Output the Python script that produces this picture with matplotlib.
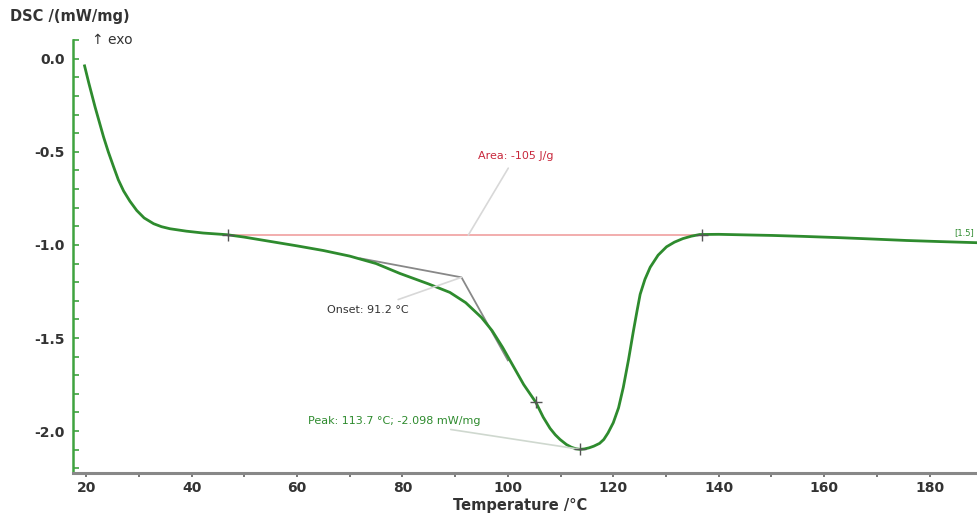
import matplotlib
matplotlib.use("Agg")
from matplotlib import pyplot as plt
from matplotlib.ticker import MultipleLocator, FormatStrFormatter

# DSC curve
temp = [19.7, 20.5, 21.7, 22.5, 23.3, 24.2, 25.2, 26.1, 27.1, 28.3, 29.6, 31.0, 32.8,
        34.3, 35.9, 39.0, 42.2, 46.7, 50.0, 54.9, 60.0, 65.0, 70.0, 75.0, 79.5,
        85.0, 89.0, 92.0, 95.0, 97.0, 99.0, 101.0, 103.0, 105.3, 106.7, 108.0,
        109.0, 109.9, 111.1, 112.0, 112.9, 113.7, 114.5, 115.4, 116.3, 117.4,
        118.2, 119.0, 120.0, 121.0, 121.9, 122.9, 123.8, 124.5, 125.1, 126.0,
        127.0, 128.5, 130.1, 131.6, 133.2, 134.8, 136.4, 140.0, 145.0, 150.2,
        156.0, 163.0, 169.0, 175.6, 182.0, 189.0]
dsc = [-0.038, -0.13, -0.26, -0.34, -0.42, -0.50, -0.58, -0.65, -0.71, -0.765, -0.815,
       -0.855, -0.886, -0.902, -0.913, -0.926, -0.936, -0.945, -0.958, -0.981,
       -1.005, -1.03, -1.06, -1.10, -1.153, -1.21, -1.255, -1.31, -1.39, -1.46,
       -1.55, -1.65, -1.75, -1.845, -1.925, -1.985, -2.02, -2.045, -2.072,
       -2.086, -2.095, -2.098, -2.096, -2.09, -2.081, -2.066, -2.045, -2.01,
       -1.955, -1.875, -1.765, -1.615, -1.465, -1.355, -1.265, -1.185, -1.12,
       -1.055, -1.01, -0.985, -0.966, -0.953, -0.944, -0.943, -0.946, -0.949,
       -0.954, -0.961, -0.968, -0.976, -0.982, -0.988]

# evaluation points
base_t = [47.0, 136.8]
base_v = [-0.947, -0.947]
onset_t = [72.0, 91.2, 100.0]
onset_v = [-1.072, -1.174, -1.62]
mark_t = [47.0, 136.8, 105.3, 113.7]
mark_v = [-0.947, -0.944, -1.845, -2.098]

green = "#2e8b2e"
txt = "#333333"

fig = plt.figure(figsize=(9.77, 5.15), dpi=100)
ax = fig.add_axes([0.0747, 0.0816, 0.9253, 0.8404])

ax.plot(temp, dsc, color=green, lw=2.0, zorder=3)
ax.plot(base_t, base_v, color="#f0a0a0", lw=1.2, zorder=2)
ax.plot(onset_t, onset_v, color="#888888", lw=1.3, zorder=2)
ax.plot(mark_t, mark_v, "+", color="#555555", ms=9, mew=1.0, zorder=4)

# annotations
ax.annotate("Area: -105 J/g", xy=(92.5, -0.947), xytext=(101.5, -0.52),
            color="#c8283c", fontsize=8, ha="center", va="center",
            arrowprops=dict(arrowstyle="-", color="#d8d8d8", lw=1.2,
                            shrinkA=4, shrinkB=0))
ax.annotate("Onset: 91.2 °C", xy=(91.2, -1.174), xytext=(73.5, -1.35),
            color=txt, fontsize=8, ha="center", va="center",
            arrowprops=dict(arrowstyle="-", color="#d8d8d8", lw=1.2,
                            shrinkA=6, shrinkB=0))
ax.annotate("Peak: 113.7 °C; -2.098 mW/mg", xy=(113.7, -2.098), xytext=(78.5, -1.945),
            color=green, fontsize=8, ha="center", va="center",
            arrowprops=dict(arrowstyle="-", color="#cfd8cf", lw=1.2,
                            shrinkA=4, shrinkB=0))
ax.text(184.6, -0.935, "[1.5]", color=green, fontsize=6, ha="left", va="center")

ax.set_xlim(17.5, 189)
ax.set_ylim(-2.225, 0.1)
ax.xaxis.set_major_locator(MultipleLocator(20))
ax.xaxis.set_minor_locator(MultipleLocator(10))
ax.yaxis.set_major_locator(MultipleLocator(0.5))
ax.yaxis.set_minor_locator(MultipleLocator(0.1))
ax.yaxis.set_major_formatter(FormatStrFormatter("%.1f"))

for s in ["top", "right"]:
    ax.spines[s].set_visible(False)
ax.spines["left"].set_color("#3fa33f")
ax.spines["left"].set_linewidth(1.8)
ax.spines["bottom"].set_color("#888888")
ax.spines["bottom"].set_linewidth(2.2)

ax.tick_params(axis="y", which="both", colors="#3fa33f", labelcolor=txt,
               labelsize=10, direction="in", length=4, width=1.2, pad=6)
ax.tick_params(axis="x", which="both", colors="#777777", labelcolor=txt,
               labelsize=10, direction="out", length=3, width=1.4, pad=3)
for lab in ax.get_xticklabels() + ax.get_yticklabels():
    lab.set_fontweight("bold")

fig.text(0.010, 0.968, "DSC /(mW/mg)", fontsize=10.5, fontweight="bold",
         color=txt, ha="left", va="center")
fig.text(0.094, 0.922, "↑ exo", fontsize=10, color=txt, ha="left", va="center")
fig.text(0.532, 0.018, "Temperature /°C", fontsize=10.5, fontweight="bold",
         color=txt, ha="center", va="center")

fig.savefig("out.png", dpi=100)
